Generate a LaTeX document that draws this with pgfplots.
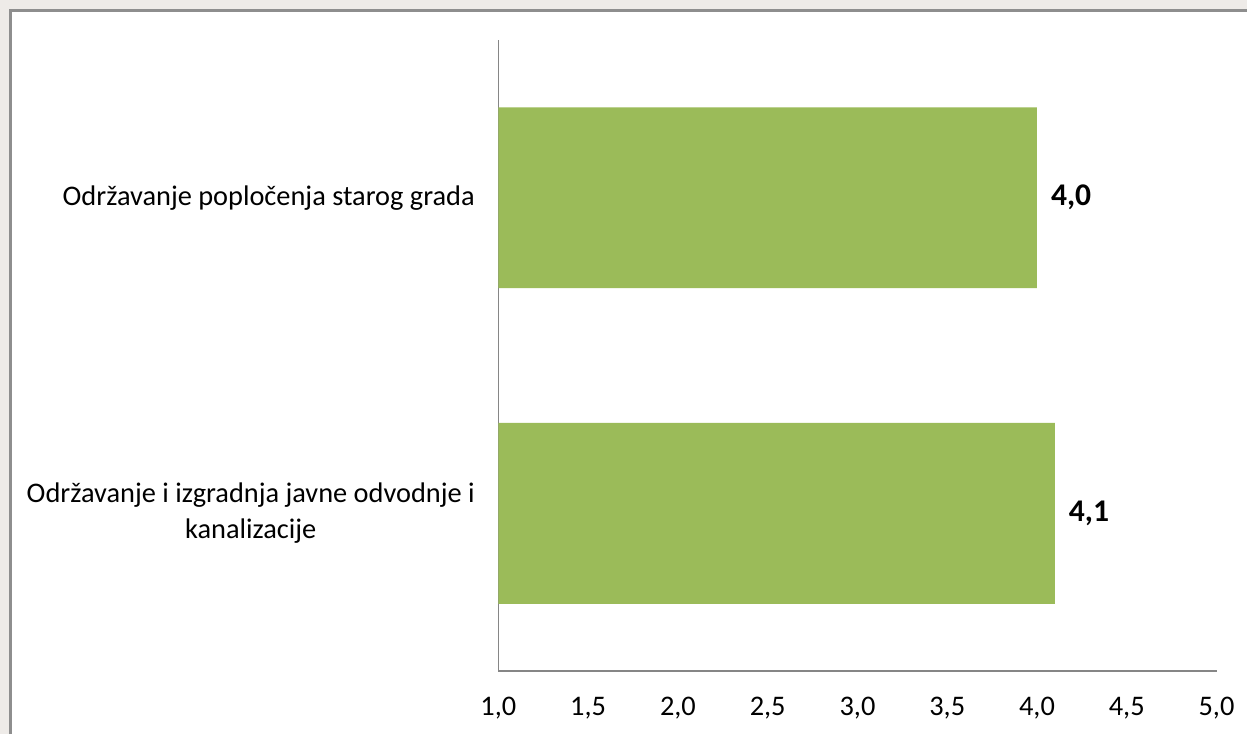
\documentclass[border=0pt]{standalone}
\usepackage{fontspec}
\setmainfont{Carlito}
\usepackage{pgfplots}
\pgfplotsset{compat=1.18}
\definecolor{bargreen}{HTML}{9BBB59}
\definecolor{axgray}{HTML}{868686}
\definecolor{bggray}{HTML}{EEEBE8}
\definecolor{framegray}{HTML}{8E8E8E}
\begin{document}
\begin{tikzpicture}[x=0.5pt,y=0.5pt,font=\fontsize{14.2}{18}\selectfont]
% pixel coords: X = px-499, Y = 672-py
\fill[bggray] (-499,-63) rectangle (749,672);
\fill[white] (-489,-63) rectangle (749,661);
\draw[framegray, line width=1.5pt] (-488.5,-63) -- (-488.5,661.5) -- (749,661.5);
\useasboundingbox (-499,-63) rectangle (749,672);
\begin{axis}[
  at={(0,0)}, anchor=south west,
  scale only axis, width=359.5pt, height=316pt,
  xbar, xmin=1, xmax=5, ymin=0, ymax=2,
  bar width=0.573,
  axis lines*=left,
  axis line style={-, draw=axgray, line width=0.75pt},
  major tick length=0pt, tick style={draw=none},
  /pgf/number format/assume math mode=true,
  xtick={1,1.5,2,2.5,3,3.5,4,4.5,5},
  xticklabel style={yshift=-9.5pt, /pgf/number format/.cd, fixed, fixed zerofill, precision=1, use comma},
  ytick={0.5,1.5},
  yticklabels={{Održavanje i izgradnja javne odvodnje i\\kanalizacije}, {Održavanje popločenja starog grada}},
  yticklabel style={align=center, xshift=-8.3pt},
  point meta=x,
  nodes near coords={\pgfmathprintnumber[fixed,fixed zerofill,precision=1,use comma,assume math mode=true]{\pgfplotspointmeta}},
  every node near coord/.append style={font=\fontsize{15.8}{18}\selectfont\bfseries, text=black, xshift=3.5pt},
  clip=false,
]
\addplot[fill=bargreen, draw=none] coordinates {(4.1,0.5) (4.0,1.5)};
\end{axis}
\end{tikzpicture}
\end{document}
